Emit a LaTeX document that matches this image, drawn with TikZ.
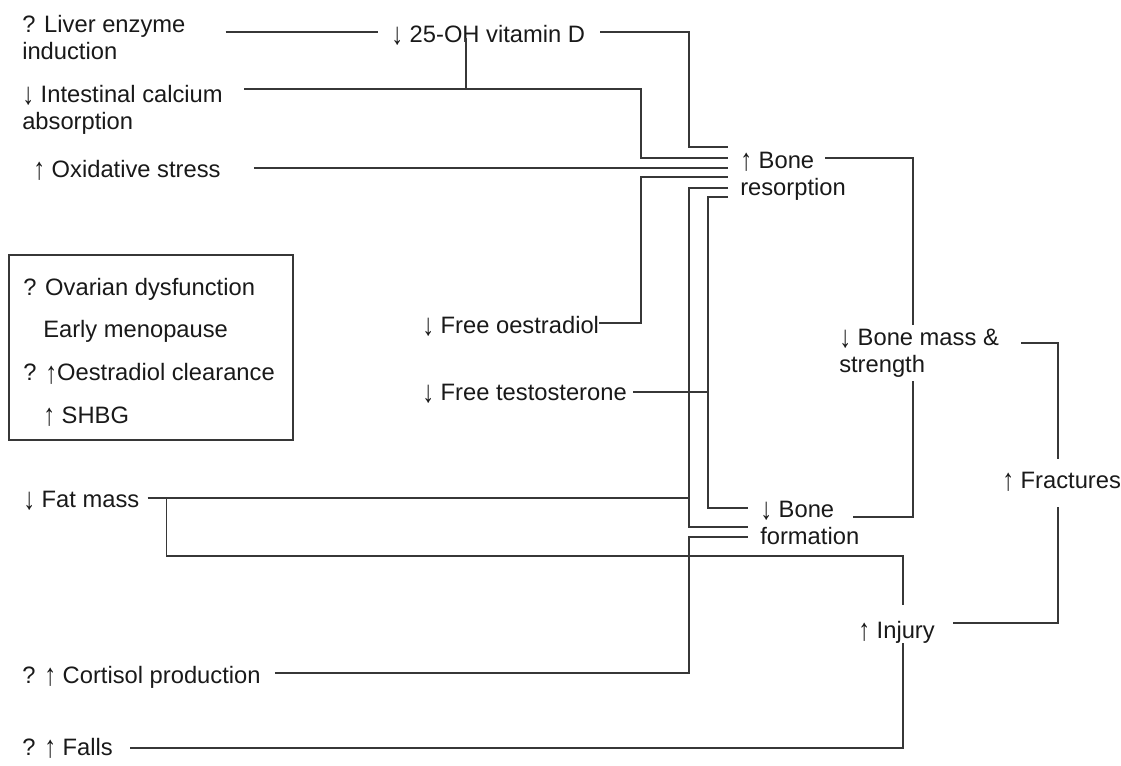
\documentclass[tikz,border=0pt]{standalone}
\usepackage{fontspec}
\setmainfont{Liberation Sans}
\usetikzlibrary{calc}
\definecolor{wire}{RGB}{55,55,55}
\definecolor{ink}{RGB}{25,25,25}
\newcommand{\arrdn}{\raisebox{-0.12em}{\scalebox{1}[1.3]{↓}}}
\newcommand{\arrup}{\raisebox{-0.12em}{\scalebox{1}[1.3]{↑}}}

\begin{document}
\begin{tikzpicture}[x=0.75pt, y=-0.75pt,
    lbl/.style={anchor=base west, inner sep=0pt, align=left, text=ink,
      font=\fontsize{17.8}{20.25}\selectfont},
    link/.style={draw=wire, line width=1.1pt}]
  \useasboundingbox (0,0) rectangle (1121,765);
  \node[lbl] (liver)  at (22,59)   {? Liver enzyme\\induction};
  \node[lbl] (vitd)   at (391,42)  {\arrdn{} 25-OH vitamin D};
  \node[lbl] (intest) at (22,129)  {\arrdn{} Intestinal calcium\\absorption};
  \node[lbl] (oxid)   at (33,177)  {\arrup{} Oxidative stress};
  \node[lbl] (res)    at (740,195) {\arrup{} Bone\\resorption};
  \node[draw=wire, line width=1.1pt, inner sep=0pt, minimum width=213pt,
    minimum height=138.75pt] (box) at (151,347.5) {};
  \node[lbl, font=\fontsize{17.8}{32}\selectfont] (ovary) at (23,423)
    {? Ovarian dysfunction\\\hspace*{15pt}Early menopause\\? \arrup{}Oestradiol clearance\\\hspace*{15pt}\arrup{} SHBG};
  \node[lbl] (oestr)  at (422,333) {\arrdn{} Free oestradiol};
  \node[lbl] (testo)  at (422,400) {\arrdn{} Free testosterone};
  \node[lbl] (mass)   at (839,372) {\arrdn{} Bone mass \&\\strength};
  \node[lbl] (fract)  at (1002,488) {\arrup{} Fractures};
  \node[lbl] (fat)    at (23,507)  {\arrdn{} Fat mass};
  \node[lbl] (form)   at (760,544) {\arrdn{} Bone\\formation};
  \node[lbl] (injury) at (858,638) {\arrup{} Injury};
  \node[lbl] (cort)   at (22,683)  {? \arrup{} Cortisol production};
  \node[lbl] (falls)  at (22,755)  {? \arrup{} Falls};

  \coordinate (tA) at ($(form.base west)+(-71,0)$);
  \coordinate (tB) at ($(form.base west)+(-52,0)$);

  \draw[link] ($(liver.base east)+(40,-27)$) -- ($(vitd.base west)+(-13,-10)$);
  \draw[link] ($(vitd.base east)+(15,-10)$) -| ($(res.base west)+(-51,-48)$) -- ++(39,0);
  \draw[link] ($(intest.base east)+(21,-40)$) coordinate (i0) -| ($(res.base west)+(-99,-37)$) -- ++(87,0);
  \draw[link] ($(vitd.base west)+(75,-4)$) coordinate (v0) -- (v0 |- i0);
  \draw[link] ($(oxid.base east)+(33,-9)$) -- ($(res.base west)+(-12,-27)$);
  \draw[link] ($(oestr.base east)+(0,-10)$) -| ($(res.base west)+(-99,-18)$) -- ++(87,0);
  \draw[link] ($(res.base west)+(-12,-7)$) -| ($(form.base west)+(-71,-17)$) -- ++(59,0);
  \draw[link] ($(res.base west)+(-12,2)$) -| ($(form.base west)+(-52,-36)$) -- ++(40,0);
  \draw[link] ($(testo.base east)+(6,-8)$) coordinate (t0) -- (t0 -| tB);
  \draw[link] ($(fat.base east)+(8,-9)$) coordinate (a0) -- (a0 -| tA);
  \draw[link] ($(fat.base east)+(27,-9)$) |- ($(injury.base west)+(45,-82)$) -- ++(0,49);
  \draw[link] ($(cort.base east)+(14,-10)$) -| ($(form.base west)+(-71,-7)$) -- ++(59,0);
  \draw[link] ($(falls.base east)+(17,-7)$) -| ($(injury.base west)+(45,5)$);
  \draw[link] ($(injury.base east)+(18,-15)$) -| ($(fract.base west)+(56,19)$);
  \draw[link] ($(mass.base east)+(22,-29)$) -| ($(fract.base west)+(56,-29)$);
  \draw[link] ($(res.base west)+(85,-37)$) -| ($(mass.base west)+(74,-47)$);
  \draw[link] ($(form.base west)+(93,-27)$) -| ($(mass.base west)+(74,9)$);
\end{tikzpicture}
\end{document}
